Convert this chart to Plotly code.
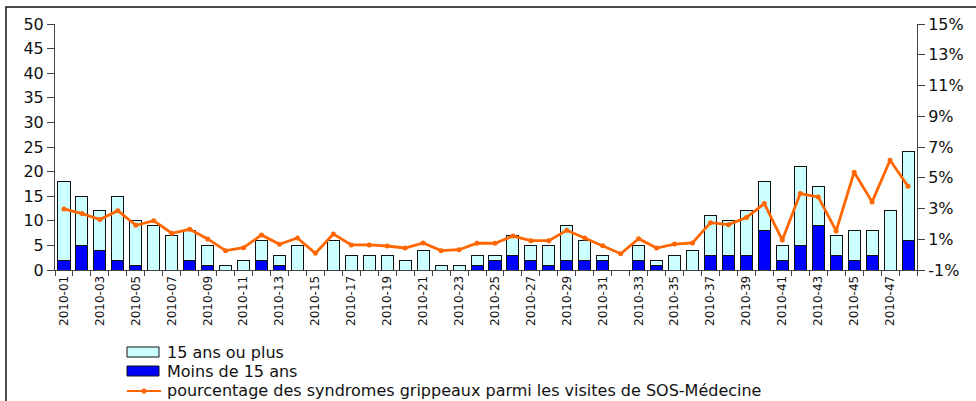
import plotly.graph_objects as go

weeks = [f"2010-{i:02d}" for i in range(1, 49)]
totals = [18, 15, 12, 15, 10, 9, 7, 8, 5, 1, 2, 6, 3, 5, 0, 6, 3, 3, 3, 2, 4, 1, 1, 3,
          3, 7, 5, 5, 9, 6, 3, 0, 5, 2, 3, 4, 11, 10, 12, 18, 5, 21, 17, 7, 8, 8, 12, 24]
moins15 = [2, 5, 4, 2, 1, 0, 0, 2, 1, 0, 0, 2, 1, 0, 0, 0, 0, 0, 0, 0, 0, 0, 0, 1,
           2, 3, 2, 1, 2, 2, 2, 0, 2, 1, 0, 0, 3, 3, 3, 8, 2, 5, 9, 3, 2, 3, 0, 6]
plus15 = [t - m for t, m in zip(totals, moins15)]
pct = [2.97, 2.67, 2.28, 2.86, 1.91, 2.21, 1.39, 1.65, 1.02, 0.26, 0.45, 1.28, 0.67, 1.08,
       0.09, 1.34, 0.63, 0.63, 0.56, 0.43, 0.76, 0.26, 0.32, 0.74, 0.74, 1.21, 0.91, 0.91,
       1.58, 1.08, 0.58, 0.06, 1.04, 0.43, 0.69, 0.76, 2.08, 1.95, 2.41, 3.32, 0.95, 3.97,
       3.75, 1.54, 5.36, 3.43, 6.14, 4.45]
tick_labels = weeks[::2]
left_ticks = list(range(0, 51, 5))
right_ticks = list(range(-1, 16, 2))
series_names = ["15 ans ou plus", "Moins de 15 ans",
                "pourcentage des syndromes grippeaux parmi les visites de SOS-Médecine"]
colors = ["#CCFFFF", "#0000FF", "#FF6600"]

x = list(range(1, len(weeks) + 1))

font = "DejaVu Sans, Arial, sans-serif"
fig = go.Figure()
fig.add_trace(go.Bar(x=x, y=moins15, name=series_names[1],
                     marker=dict(color=colors[1], line=dict(color="#111111", width=1)), yaxis="y"))
fig.add_trace(go.Bar(x=x, y=plus15, name=series_names[0],
                     marker=dict(color=colors[0], line=dict(color="#111111", width=1)), yaxis="y"))
fig.add_trace(go.Scatter(x=x, y=pct, name=series_names[2], mode="lines+markers",
                         line=dict(color=colors[2], width=2.8),
                         marker=dict(color=colors[2], size=5), yaxis="y2"))

L, R, T, B = 55, 59, 24, 131
W, H = 976, 401
pw, ph = W - L - R, H - T - B


def px(xp):
    return (xp - L) / pw


def py(yp):
    return (T + ph - yp) / ph


fig.update_layout(
    width=W, height=H, margin=dict(l=L, r=R, t=T, b=B, autoexpand=False),
    barmode="stack", bargap=0.33,
    plot_bgcolor="white", paper_bgcolor="white",
    font=dict(family=font, size=16, color="#111111"),
    showlegend=False,
    xaxis=dict(range=[0.5, len(weeks) + 0.5], tickmode="array", tickvals=x[::2], ticktext=tick_labels,
               tickangle=-90, tickfont=dict(size=12), ticks="", showline=True, linecolor="#444444",
               linewidth=1, showgrid=False, zeroline=False, automargin=False,
               minor=dict(tickmode="linear", tick0=0.5, dtick=1, ticks="outside", ticklen=5,
                          tickcolor="#444444", showgrid=False)),
    yaxis=dict(range=[0, 50], tickvals=left_ticks, ticks="outside", ticklen=7, tickcolor="#444444",
               showline=True, linecolor="#444444", linewidth=1, showgrid=False, zeroline=False,
               automargin=False),
    yaxis2=dict(range=[-1, 15], tickvals=right_ticks, ticktext=[f"{v}%" for v in right_ticks],
                overlaying="y", side="right", ticks="outside", ticklen=7, tickcolor="#444444",
                showline=True, linecolor="#444444", linewidth=1, showgrid=False, zeroline=False,
                automargin=False),
)

# frame
fig.add_shape(type="rect", xref="paper", yref="paper",
              x0=px(6), x1=px(1010), y0=py(430), y1=py(7),
              line=dict(color="#111111", width=1.5), layer="below")

# manual legend
rows = [352, 371, 390]
for i, (name, col) in enumerate(zip(series_names, colors)):
    yc = rows[i]
    if i < 2:
        fig.add_shape(type="rect", xref="paper", yref="paper",
                      x0=px(127), x1=px(159), y0=py(yc + 5), y1=py(yc - 5),
                      fillcolor=col, line=dict(color="#111111", width=1))
    else:
        fig.add_shape(type="line", xref="paper", yref="paper",
                      x0=px(127), x1=px(161), y0=py(yc + 1), y1=py(yc + 1),
                      line=dict(color=col, width=2))
        fig.add_shape(type="circle", xref="paper", yref="paper",
                      x0=px(141.5), x1=px(146.5), y0=py(yc + 3.5), y1=py(yc - 1.5),
                      fillcolor=col, line=dict(color=col, width=0))
    fig.add_annotation(xref="paper", yref="paper", x=px(166), y=py(yc), xanchor="left",
                       yanchor="middle", text=name, showarrow=False, borderpad=0,
                       font=dict(size=16, family=font, color="#111111"))

fig.write_html("out.html", config={"displayModeBar": False},
               post_script="document.body.style.margin='0';document.body.style.overflow='hidden';")
